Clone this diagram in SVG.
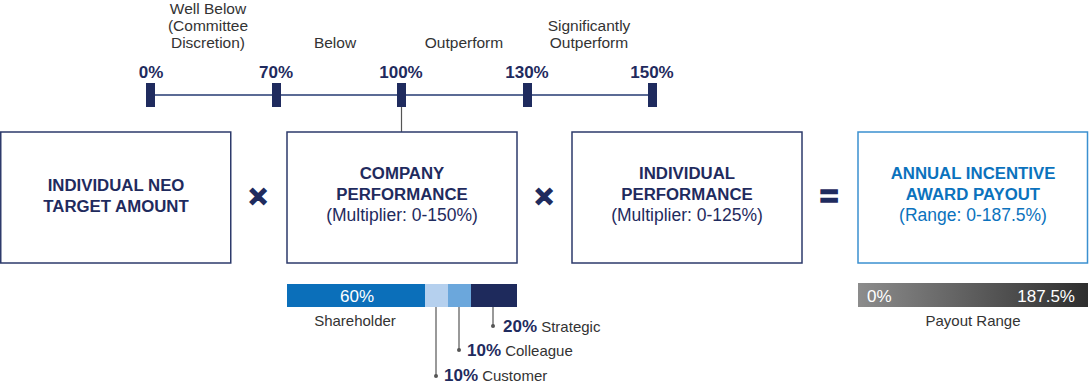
<svg xmlns="http://www.w3.org/2000/svg" width="1089" height="385" viewBox="0 0 1089 385">
<defs>
<linearGradient id="gr" x1="0" x2="1" y1="0" y2="0">
<stop offset="0" stop-color="#8c8c8c"/>
<stop offset="1" stop-color="#2e2e2e"/>
</linearGradient>
</defs>
<style>
text{font-family:"Liberation Sans",Arial,sans-serif}
.cat{font-size:15.5px;fill:#333;text-anchor:middle}
.pct{font-size:17px;font-weight:bold;fill:#1f2b5e;text-anchor:middle}
.tick{fill:#1f2b5e}
.box{fill:#fff;stroke:#2d3a6b;stroke-width:1.5}
.boxb{fill:#fff;stroke:#3b90d0;stroke-width:1.5}
.t{font-size:16.8px;font-weight:bold;fill:#1f2b5e;text-anchor:middle}
.s{font-size:17.5px;fill:#1f2b5e;text-anchor:middle}
.tb{font-size:16.8px;font-weight:bold;fill:#0b72bd;text-anchor:middle}
.sb{font-size:17.5px;fill:#0b72bd;text-anchor:middle}
.op{font-size:32px;font-weight:bold;fill:#1f2b5e;stroke:#1f2b5e;stroke-width:1.5;text-anchor:middle}
.lead{stroke:#555;stroke-width:1.2;fill:none}
.dot{fill:#555}
.lbl{font-size:15px;fill:#333}
.lp{font-size:17px;font-weight:bold;fill:#1f2b5e}
.wt{font-size:17px;fill:#fff}
</style>
<g id="scale">
<text class="cat" x="208" y="14">Well Below</text>
<text class="cat" x="208" y="31">(Committee</text>
<text class="cat" x="208" y="48">Discretion)</text>
<text class="cat" x="335" y="48">Below</text>
<text class="cat" x="464" y="48">Outperform</text>
<text class="cat" x="589" y="31">Significantly</text>
<text class="cat" x="589" y="48">Outperform</text>
<text class="pct" x="151" y="78">0%</text>
<text class="pct" x="276" y="78">70%</text>
<text class="pct" x="401" y="78">100%</text>
<text class="pct" x="527" y="78">130%</text>
<text class="pct" x="652" y="78">150%</text>
<line x1="150" y1="95" x2="652" y2="95" stroke="#5b6b95" stroke-width="2"/>
<rect class="tick" x="146" y="83" width="9" height="24"/>
<rect class="tick" x="272" y="83" width="9" height="24"/>
<rect class="tick" x="397" y="83" width="9" height="24"/>
<rect class="tick" x="523" y="83" width="9" height="24"/>
<rect class="tick" x="648" y="83" width="9" height="24"/>
</g>
<g id="connectors">
<line class="lead" x1="401.5" y1="107" x2="401.5" y2="149"/>
<circle class="dot" cx="401.5" cy="149" r="2"/>
<line class="lead" x1="436" y1="307" x2="436" y2="376"/>
<circle class="dot" cx="436" cy="376" r="2"/>
<line class="lead" x1="459" y1="307" x2="459" y2="350"/>
<circle class="dot" cx="459" cy="350" r="2"/>
<line class="lead" x1="493" y1="307" x2="493" y2="326"/>
<circle class="dot" cx="493" cy="326" r="2"/>
</g>
<g id="box-neo">
<rect class="box" x="0.75" y="132" width="230" height="131"/>
<text class="t" x="116" y="191">INDIVIDUAL NEO</text>
<text class="t" x="116" y="212">TARGET AMOUNT</text>
</g>
<g id="op1"><text class="op" x="258" y="207">×</text></g>
<g id="box-company">
<rect class="box" x="287" y="132" width="230" height="131"/>
<text class="t" x="402" y="179">COMPANY</text>
<text class="t" x="402" y="200">PERFORMANCE</text>
<text class="s" x="402" y="221">(Multiplier: 0-150%)</text>
</g>
<g id="op2"><text class="op" x="544" y="207">×</text></g>
<g id="box-individual">
<rect class="box" x="572" y="132" width="230" height="131"/>
<text class="t" x="687" y="179">INDIVIDUAL</text>
<text class="t" x="687" y="200">PERFORMANCE</text>
<text class="s" x="687" y="221">(Multiplier: 0-125%)</text>
</g>
<g id="op3"><text class="op" x="829" y="207">=</text></g>
<g id="box-payout">
<rect class="boxb" x="858" y="132" width="229.5" height="131"/>
<text class="tb" x="973" y="179">ANNUAL INCENTIVE</text>
<text class="tb" x="973" y="200">AWARD PAYOUT</text>
<text class="sb" x="973" y="221">(Range: 0-187.5%)</text>
</g>
<g id="weights">
<rect x="287" y="284" width="138" height="23" fill="#0b6fba"/>
<rect x="425" y="284" width="23" height="23" fill="#b5d0ee"/>
<rect x="448" y="284" width="23" height="23" fill="#6ba7dc"/>
<rect x="471" y="284" width="46" height="23" fill="#1e2a5c"/>
<text class="wt" x="357" y="302" text-anchor="middle">60%</text>
<text class="lbl" x="355" y="326" text-anchor="middle">Shareholder</text>
<text x="503" y="332"><tspan class="lp">20%</tspan><tspan class="lbl"> Strategic</tspan></text>
<text x="467" y="356"><tspan class="lp">10%</tspan><tspan class="lbl"> Colleague</tspan></text>
<text x="444" y="381"><tspan class="lp">10%</tspan><tspan class="lbl"> Customer</tspan></text>
</g>
<g id="payout-range">
<rect x="858" y="283" width="230" height="24" fill="url(#gr)"/>
<text class="wt" x="867" y="302">0%</text>
<text class="wt" x="1075" y="302" text-anchor="end">187.5%</text>
<text class="lbl" x="973" y="326" text-anchor="middle">Payout Range</text>
</g>
</svg>
